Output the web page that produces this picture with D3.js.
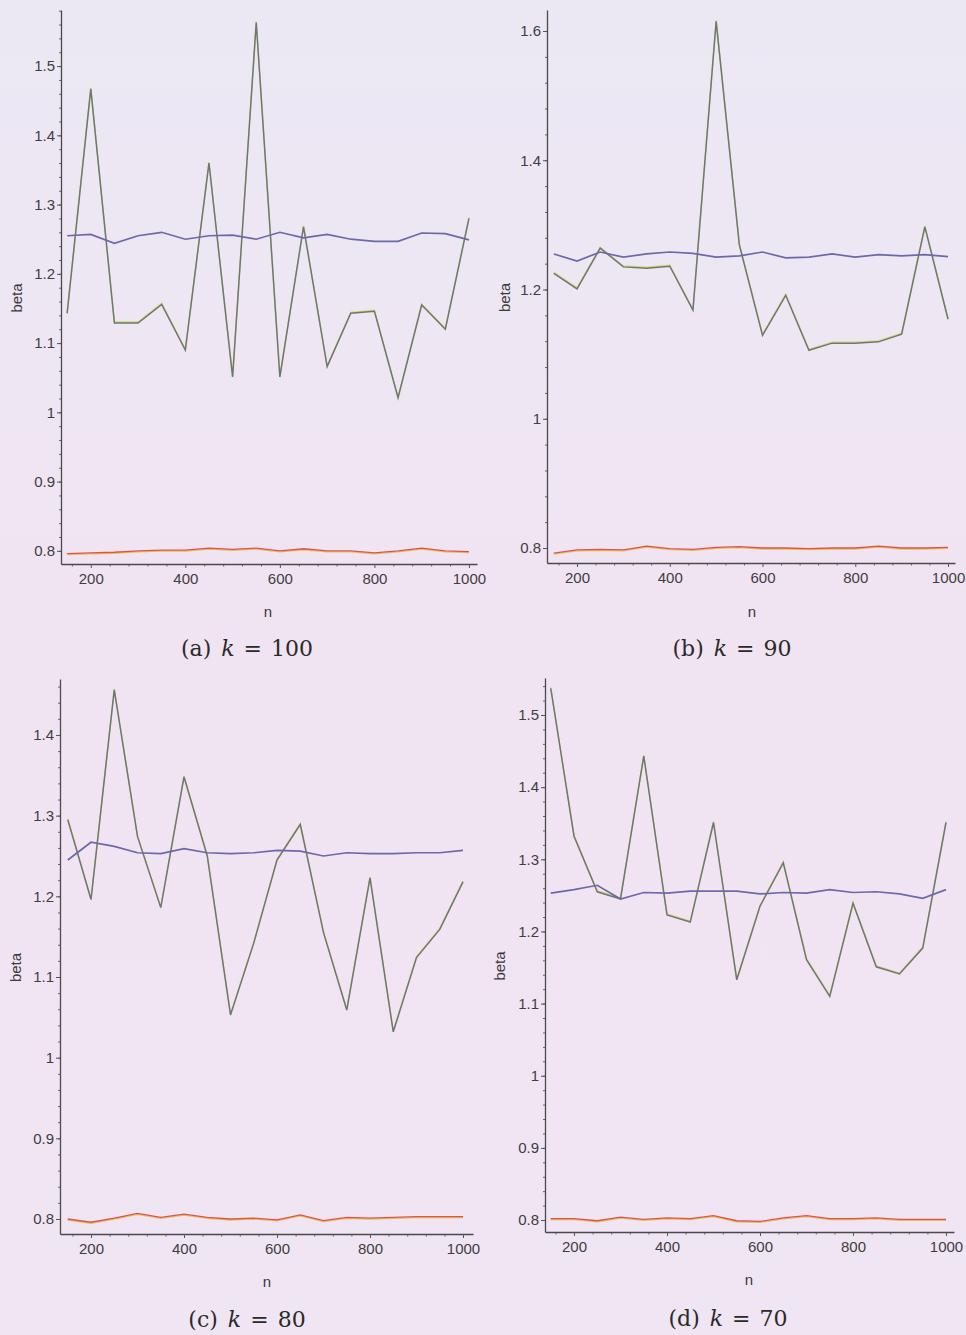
<!DOCTYPE html>
<html>
<head>
<meta charset="utf-8">
<script src="https://cdn.jsdelivr.net/npm/d3@7"></script>
<style>
  html, body { margin: 0; padding: 0; }
  body { width: 966px; height: 1335px; overflow: hidden;
         background: linear-gradient(#ebe8f4 0%, #eee6f3 25%, #f1e4f2 45%, #f0e5f3 100%); }
  svg { display: block; }
  .lab { font-family: "Liberation Sans", Arial, sans-serif; font-size: 15px; fill: #3a3a3a; }
  .cap { font-family: "DejaVu Serif", serif; font-size: 22px; fill: #2a2a2a; }
</style>
</head>
<body>
<svg id="fig" width="966" height="1335"></svg>
<script>
// sample sizes, same for all four panels
var nValues = [150, 200, 250, 300, 350, 400, 450, 500, 550, 600, 650, 700, 750, 800, 850, 900, 950, 1000];

// (a) k = 100
var blueA  = [1.255, 1.257, 1.244, 1.255, 1.260, 1.250, 1.255, 1.256, 1.250, 1.260, 1.252, 1.257, 1.250, 1.247, 1.247, 1.259, 1.258, 1.249];
var greyA  = [1.143, 1.467, 1.129, 1.129, 1.156, 1.090, 1.360, 1.051, 1.563, 1.051, 1.268, 1.066, 1.143, 1.146, 1.021, 1.155, 1.120, 1.280];
var redA   = [0.796, 0.797, 0.798, 0.800, 0.801, 0.801, 0.804, 0.802, 0.804, 0.800, 0.803, 0.800, 0.800, 0.797, 0.800, 0.804, 0.800, 0.799];

// (b) k = 90
var blueB  = [1.255, 1.244, 1.258, 1.250, 1.255, 1.258, 1.256, 1.250, 1.252, 1.258, 1.249, 1.250, 1.255, 1.250, 1.254, 1.252, 1.254, 1.251];
var greyB  = [1.225, 1.201, 1.264, 1.235, 1.233, 1.236, 1.168, 1.615, 1.269, 1.129, 1.191, 1.106, 1.117, 1.117, 1.119, 1.131, 1.297, 1.154];
var redB   = [0.792, 0.797, 0.798, 0.797, 0.803, 0.799, 0.798, 0.801, 0.802, 0.800, 0.800, 0.799, 0.800, 0.800, 0.803, 0.800, 0.800, 0.801];

// (c) k = 80
var blueC  = [1.245, 1.267, 1.262, 1.254, 1.253, 1.259, 1.254, 1.253, 1.254, 1.257, 1.256, 1.250, 1.254, 1.253, 1.253, 1.254, 1.254, 1.257];
var greyC  = [1.295, 1.196, 1.456, 1.274, 1.186, 1.348, 1.250, 1.053, 1.142, 1.245, 1.289, 1.155, 1.059, 1.223, 1.032, 1.124, 1.159, 1.218];
var redC   = [0.800, 0.796, 0.801, 0.807, 0.802, 0.806, 0.802, 0.800, 0.801, 0.799, 0.805, 0.798, 0.802, 0.801, 0.802, 0.803, 0.803, 0.803];

// (d) k = 70
var blueD  = [1.253, 1.258, 1.264, 1.245, 1.254, 1.253, 1.256, 1.256, 1.256, 1.252, 1.254, 1.253, 1.258, 1.254, 1.255, 1.252, 1.246, 1.258];
var greyD  = [1.537, 1.332, 1.255, 1.245, 1.443, 1.223, 1.213, 1.351, 1.133, 1.235, 1.295, 1.161, 1.110, 1.239, 1.151, 1.141, 1.177, 1.351];
var redD   = [0.802, 0.802, 0.799, 0.804, 0.801, 0.803, 0.802, 0.806, 0.799, 0.798, 0.803, 0.806, 0.802, 0.802, 0.803, 0.801, 0.801, 0.801];

var yTicksA = [0.8, 0.9, 1, 1.1, 1.2, 1.3, 1.4, 1.5];
var yTicksB = [0.8, 1, 1.2, 1.4, 1.6];
var yTicksC = [0.8, 0.9, 1, 1.1, 1.2, 1.3, 1.4];
var yTicksD = [0.8, 0.9, 1, 1.1, 1.2, 1.3, 1.4, 1.5];
var xTicks  = [200, 400, 600, 800, 1000];
var captions = ["(a)", "(b)", "(c)", "(d)"];
var kValues  = [100, 90, 80, 70];

// where each sub-figure sits on the scanned page
var panels = [
  { left: 61,  right: 477, top: 10,  bottom: 564,  xDom: [137, 1017],   yDom: [0.781, 1.581],   yTicks: yTicksA, yMinor: 0.02,
    blue: blueA, grey: greyA, red: redA, betaX: 17,  nX: 268, nY: 617,  capX: 247, capY: 656 },
  { left: 547, right: 955, top: 10,  bottom: 563,  xDom: [135.3, 1015], yDom: [0.7768, 1.6325], yTicks: yTicksB, yMinor: 0.04,
    blue: blueB, grey: greyB, red: redB, betaX: 505, nX: 752, nY: 617,  capX: 732, capY: 656 },
  { left: 60,  right: 473, top: 679, bottom: 1234, xDom: [133.3, 1021.5], yDom: [0.7814, 1.4694], yTicks: yTicksC, yMinor: 0.02,
    blue: blueC, grey: greyC, red: redC, betaX: 16,  nX: 267, nY: 1287, capX: 247, capY: 1327 },
  { left: 545, right: 954, top: 678, bottom: 1232, xDom: [137.6, 1017.2], yDom: [0.7834, 1.5513], yTicks: yTicksD, yMinor: 0.02,
    blue: blueD, grey: greyD, red: redD, betaX: 500, nX: 749, nY: 1285, capX: 728, capY: 1326 }
];

var svg = d3.select("#fig");

function styleTicks(s) {
  s.selectAll(".tick text")
    .attr("font-family", "'Liberation Sans', Arial, sans-serif")
    .attr("font-size", 15)
    .attr("fill", "#3e3e3e");
}

panels.forEach(function(p, pi) {
  var x = d3.scaleLinear().domain(p.xDom).range([p.left, p.right]);
  var y = d3.scaleLinear().domain(p.yDom).range([p.bottom, p.top]);
  var g = svg.append("g");

  // minor ticks first so the main axis lines sit on top
  var xMinor = d3.range(160, 1001, 40).filter(function(d) { return xTicks.indexOf(d) < 0; });
  g.append("g")
    .attr("transform", "translate(0," + p.bottom + ")")
    .call(d3.axisBottom(x).tickValues(xMinor).tickSize(2.5).tickFormat(""))
    .call(function(s) { s.select(".domain").remove(); s.selectAll("line").attr("stroke", "#666"); });

  var yMin = d3.range(0.8, p.yDom[1], p.yMinor).map(function(d) { return +d.toFixed(3); });
  g.append("g")
    .attr("transform", "translate(" + p.left + ",0)")
    .call(d3.axisLeft(y).tickValues(yMin).tickSize(2).tickFormat(""))
    .call(function(s) { s.select(".domain").remove(); s.selectAll("line").attr("stroke", "#666"); });

  var xAxis = g.append("g")
    .attr("transform", "translate(0," + p.bottom + ")")
    .call(d3.axisBottom(x).tickValues(xTicks).tickSize(4).tickPadding(5).tickSizeOuter(0)
      .tickFormat(d3.format("d")))
    .call(styleTicks);

  var yAxis = g.append("g")
    .attr("transform", "translate(" + p.left + ",0)")
    .call(d3.axisLeft(y).tickValues(p.yTicks).tickSize(4).tickPadding(2).tickSizeOuter(0)
      .tickFormat(function(d) { return String(+d.toFixed(1)); }))
    .call(styleTicks);

  [xAxis, yAxis].forEach(function(a) {
    a.select(".domain").attr("stroke", "#4a4a4a").attr("stroke-width", 1.3);
    a.selectAll(".tick line").attr("stroke", "#555");
  });

  var line = d3.line()
    .x(function(d, i) { return x(nValues[i]); })
    .y(function(d) { return y(d); });

  // the scan shows each zigzag with a yellow twin just beside it
  g.append("path").datum(p.grey).attr("d", line)
    .attr("transform", "translate(0,-1)")
    .attr("fill", "none").attr("stroke", "#d8d66a").attr("stroke-width", 1.3);
  g.append("path").datum(p.grey).attr("d", line)
    .attr("fill", "none").attr("stroke", "#6d7873").attr("stroke-width", 1.5);

  g.append("path").datum(p.blue).attr("d", line)
    .attr("fill", "none").attr("stroke", "#6b69aa").attr("stroke-width", 1.7);

  g.append("path").datum(p.red).attr("d", line)
    .attr("transform", "translate(0,1)")
    .attr("fill", "none").attr("stroke", "#ecbc5a").attr("stroke-width", 1.3);
  g.append("path").datum(p.red).attr("d", line)
    .attr("fill", "none").attr("stroke", "#d9574a").attr("stroke-width", 1.3);

  // axis titles
  var midY = (p.top + p.bottom) / 2 + 11;
  g.append("text").attr("class", "lab")
    .attr("transform", "translate(" + (p.betaX + 5) + "," + midY + ") rotate(-90)")
    .attr("text-anchor", "middle").text("beta");
  g.append("text").attr("class", "lab")
    .attr("x", p.nX).attr("y", p.nY)
    .attr("text-anchor", "middle").text("n");

  // sub-figure caption
  var cap = g.append("text").attr("class", "cap")
    .attr("x", p.capX).attr("y", p.capY).attr("text-anchor", "middle");
  cap.append("tspan").text(captions[pi]);
  cap.append("tspan").attr("dx", 10).attr("font-style", "italic").text("k");
  cap.append("tspan").attr("dx", 9).text("=");
  cap.append("tspan").attr("dx", 9).text(kValues[pi]);
});
</script>
</body>
</html>
